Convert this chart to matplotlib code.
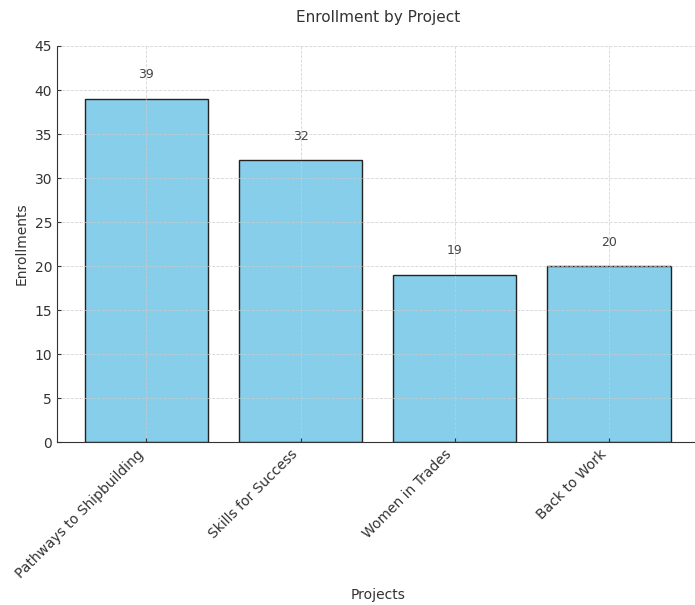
import matplotlib.pyplot as plt

projects = ["Pathways to Shipbuilding", "Skills for Success", "Women in Trades", "Back to Work"]
enrollments = [39, 32, 19, 20]

plt.rcParams['text.color'] = '#333333'
plt.rcParams['axes.labelcolor'] = '#333333'
plt.rcParams['xtick.color'] = '#333333'
plt.rcParams['ytick.color'] = '#333333'

fig = plt.figure(figsize=(6.95, 6.05), dpi=100)
ax = fig.add_axes([0.082, 0.269, 0.925, 0.655])

x = range(len(projects))
ax.bar(x, enrollments, width=0.8, color='skyblue', edgecolor='#222222', linewidth=1.0)

for i, v in enumerate(enrollments):
    ax.text(i, v + 2, str(v), ha='center', va='bottom', fontsize=9, color='#444444')

ax.set_xlim(-0.58, 3.59)
ax.set_ylim(0, 45)
ax.set_yticks(range(0, 46, 5))
ax.set_xticks(list(x))
ax.set_xticklabels(projects, rotation=45, ha='right', fontsize=10)
ax.tick_params(axis='y', labelsize=10)
ax.tick_params(direction='in', length=3)

ax.grid(True, linestyle='--', color='#cccccc', linewidth=0.6, alpha=0.8)
ax.set_axisbelow(False)
ax.spines['top'].set_visible(False)
ax.spines['right'].set_visible(False)
ax.spines['left'].set_color('#333333')
ax.spines['bottom'].set_color('#333333')

ax.set_title('Enrollment by Project', fontsize=11, pad=17)
ax.set_xlabel('Projects', fontsize=10, labelpad=5)
ax.set_ylabel('Enrollments', fontsize=10)

fig.savefig('out.png', dpi=100)
